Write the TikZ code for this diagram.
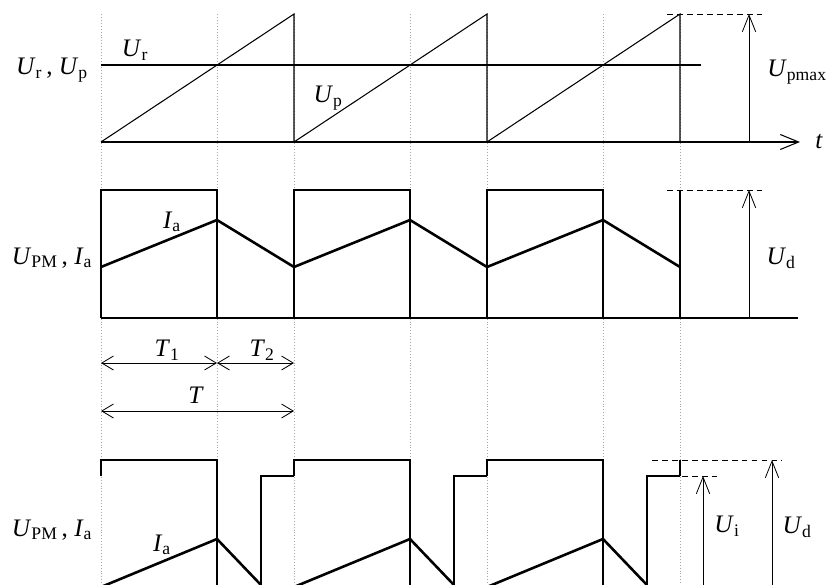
\documentclass[tikz,border=0pt]{standalone}
\usepackage{fontspec}
\setmainfont{Liberation Serif}
\usetikzlibrary{arrows.meta}
\newcommand{\wsym}[2]{\textit{#1}\textsubscript{#2}}

\begin{document}
\begin{tikzpicture}[x=0.03cm, y=-0.03cm,
    wave/.style={line width=0.9pt},
    pulse/.style={line width=2.2pt},
    guide/.style={gray!70, dotted, line width=0.5pt},
    level/.style={line width=0.8pt, dash pattern=on 5pt off 3.5pt},
    meas/.style={-{Straight Barb[length=5mm,width=4mm]}, line width=0.7pt},
    span/.style={{Straight Barb[length=3.5mm,width=4.2mm]}-{Straight Barb[length=3.5mm,width=4.2mm]}, line width=0.7pt},
    lbl/.style={font=\fontsize{21.5}{24}\selectfont, inner sep=0pt}]
        \useasboundingbox (0,0) rectangle (829,585);
        \clip (0,0) rectangle (829,585);

        % Dotted time marks
        \foreach \x in {101,217,294,410,487,603,680}
            \draw[guide] (\x,14) -- (\x,585);

        % Reference and sawtooth
        \draw[-{Straight Barb[length=5.5mm,width=4.5mm]}, wave] (101,142) -- (800,142);
        \draw[wave] (101,65) -- (701,65);
        \foreach \p in {101,294,487}
            \draw[wave] (\p,142) -- (\p+193,14) -- (\p+193,142);
        \draw[level] (667,14) -- (764,14);
        \draw[meas] (749,142) -- (749,14);

        % Output voltage and current
        \draw[wave] (101,318) -- (798,318);
        \foreach \p in {101,294,487} {
            \draw[pulse] (\p,318) -- (\p,190) -- (\p+116,190) -- (\p+116,318) -- (\p+193,318);
            \draw[pulse] (\p,267) -- (\p+116,220) -- (\p+193,267);
        }
        \draw[pulse] (680,318) -- (680,190);
        \draw[level] (667,190) -- (764,190);
        \draw[meas] (749,318) -- (749,190);

        % Periods
        \draw[span] (101,363) -- (217,363);
        \draw[span] (217,363) -- (294,363);
        \draw[span] (101,411) -- (294,411);

        % Output with inverter voltage
        \foreach \p in {101,294,487} {
            \draw[pulse] (\p,476) -- (\p,460) -- (\p+116,460) -- (\p+116,590);
            \draw[pulse] (\p+160,590) -- (\p+160,476) -- (\p+193,476);
            \draw[pulse] (\p,587) -- (\p+116,539) -- (\p+160,585);
        }
        \draw[pulse] (680,476) -- (680,460);
        \draw[level] (652,460) -- (782,460);
        \draw[level] (682,476) -- (717,476);
        \draw[meas] (703,590) -- (703,476);
        \draw[meas] (772,590) -- (772,460);

        % Labels
        \node[lbl] (lblTop) at (52,70) {\wsym{U}{r}\,, \wsym{U}{p}};
        \node[lbl] (lblUr) at (135,50) {\wsym{U}{r}};
        \node[lbl] (lblUp) at (328,98) {\wsym{U}{p}};
        \node[lbl] (lblUpmax) at (797,72) {\wsym{U}{pmax}};
        \node[lbl] (lblTime) at (819,142) {\textit{t}};
        \node[lbl] (lblMid) at (52,258) {\wsym{U}{PM}\,, \wsym{I}{a}};
        \node[lbl] (lblIaMid) at (172,222) {\wsym{I}{a}};
        \node[lbl] (lblUdMid) at (781,258) {\wsym{U}{d}};
        \node[lbl] (lblTa) at (167,350) {\wsym{T}{1}};
        \node[lbl] (lblTb) at (262,350) {\wsym{T}{2}};
        \node[lbl] (lblTp) at (196,395) {\textit{T}};
        \node[lbl] (lblBot) at (52,530) {\wsym{U}{PM}\,, \wsym{I}{a}};
        \node[lbl] (lblIaBot) at (162,545) {\wsym{I}{a}};
        \node[lbl] (lblUi) at (727,526) {\wsym{U}{i}};
        \node[lbl] (lblUdBot) at (797,527) {\wsym{U}{d}};
    \end{tikzpicture}
\end{document}
